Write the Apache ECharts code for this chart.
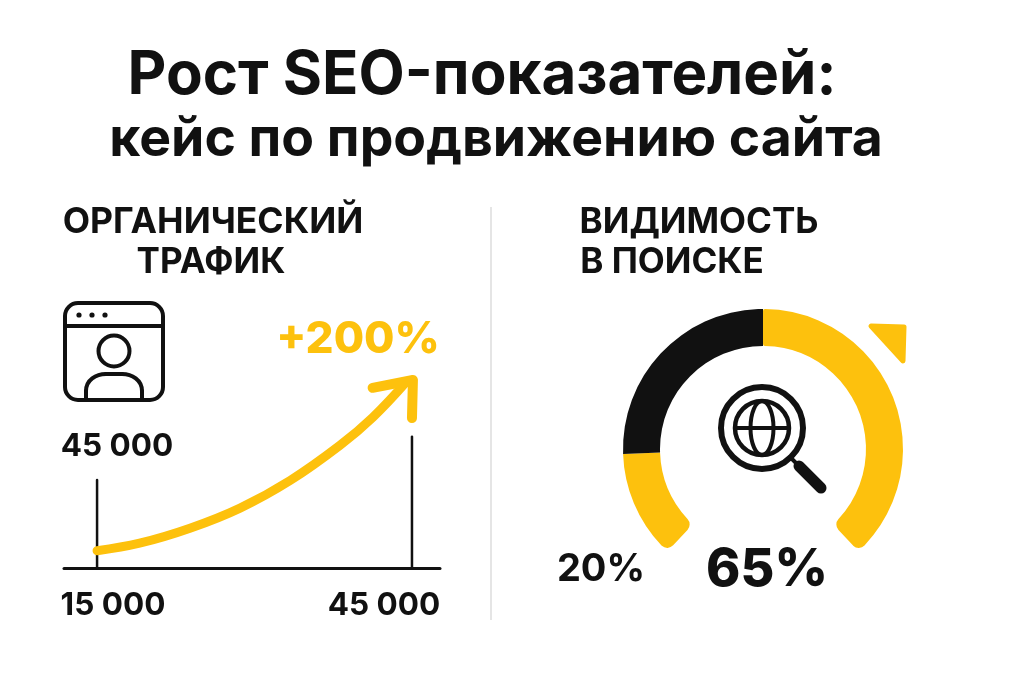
<!DOCTYPE html>
<html>
<head>
<meta charset="utf-8">
<script src="https://cdn.jsdelivr.net/npm/echarts@6/dist/echarts.min.js"></script>
<style>
  html, body { margin: 0; padding: 0; background: #fff; }
  #main { width: 1024px; height: 683px; }
</style>
</head>
<body>
<div id="main"></div>
<script>
const YELLOW = '#FDC10D';
const BLACK = '#111111';
const FONT = 'Inter';

// органический трафик, значения
const curveX = [0, 13.5, 29.5, 45.4, 61.3, 77.1, 87.6, 98.3];
const curveY = [15000, 16300, 18900, 22400, 27200, 33300, 38200, 44400];
const arrowHeadX = [87.5, 100.3, 100];
const arrowHeadY = [43300, 44650, 38050];
const leftTickX = [0, 0];
const leftTickY = [12000, 27300];
const rightTickX = [100, 100];
const rightTickY = [12000, 34800];

// видимость в поиске: доли дуги в градусах, по часовой от верхней точки
const arcNames = ['рост', 'разрыв', 'база', 'остаток'];
const arcValues = [137, 86, 45, 92];
const arcColors = [YELLOW, 'transparent', YELLOW, BLACK];
const arcCorners = [[2, 8, 2, 8], 0, [8, 0, 8, 0], 0];

const texts = [
  ['Рост SEO-показателей:', 482, 76, 60, 700, BLACK],
  ['кейс по продвижению сайта', 496, 140, 53.5, 700, BLACK],
  ['ОРГАНИЧЕСКИЙ', 213, 222, 35.5, 700, BLACK],
  ['ТРАФИК', 211, 262, 35, 700, BLACK],
  ['ВИДИМОСТЬ', 699, 222, 35, 700, BLACK],
  ['В ПОИСКЕ', 672, 262, 35, 700, BLACK],
  ['+200%', 358, 340, 44, 800, YELLOW],
  ['45 000', 117, 447, 31.5, 700, BLACK],
  ['15 000', 113, 606, 31.5, 700, BLACK],
  ['45 000', 384, 606, 31.5, 700, BLACK],
  ['20%', 601, 570, 38, 700, BLACK],
  ['65%', 767, 570, 52, 800, BLACK]
];

function zip(xs, ys) {
  return xs.map(function (x, i) { return [x, ys[i]]; });
}

function inkLine(xs, ys, color, width, smooth) {
  return {
    type: 'line',
    data: zip(xs, ys),
    smooth: smooth,
    showSymbol: false,
    silent: true,
    animation: false,
    clip: false,
    lineStyle: { color: color, width: width, cap: 'round', join: 'round' }
  };
}

let chart = echarts.init(document.getElementById('main'), null, { renderer: 'canvas' });

let textEls = texts.map(function (t) {
  return {
    type: 'text',
    x: t[1],
    y: t[2],
    silent: true,
    style: {
      text: t[0],
      fill: t[5],
      font: t[4] + ' ' + t[3] + 'px ' + FONT,
      textAlign: 'center',
      textVerticalAlign: 'middle'
    }
  };
});

function stroke(shapeType, shape, width) {
  return {
    type: shapeType,
    shape: shape,
    silent: true,
    style: { fill: 'none', stroke: BLACK, lineWidth: width, lineCap: 'round', lineJoin: 'round' }
  };
}

let icons = [
  // окно с пользователем
  stroke('rect', { x: 65, y: 303, width: 98, height: 97, r: 13 }, 4),
  stroke('line', { x1: 66, y1: 326, x2: 162, y2: 326 }, 4),
  { type: 'circle', shape: { cx: 79, cy: 315, r: 2.6 }, style: { fill: BLACK }, silent: true },
  { type: 'circle', shape: { cx: 92, cy: 315, r: 2.6 }, style: { fill: BLACK }, silent: true },
  { type: 'circle', shape: { cx: 105, cy: 315, r: 2.6 }, style: { fill: BLACK }, silent: true },
  stroke('circle', { cx: 114, cy: 351, r: 15.5 }, 4),
  stroke('line', { x1: 86, y1: 398, x2: 86, y2: 391 }, 4),
  stroke('line', { x1: 142, y1: 398, x2: 142, y2: 391 }, 4),
  stroke('bezierCurve', { x1: 86, y1: 391, cpx1: 86, cpy1: 380, cpx2: 96, cpy2: 374, x2: 106, y2: 374 }, 4),
  stroke('line', { x1: 106, y1: 374, x2: 122, y2: 374 }, 4),
  stroke('bezierCurve', { x1: 122, y1: 374, cpx1: 132, cpy1: 374, cpx2: 142, cpy2: 380, x2: 142, y2: 391 }, 4),
  // лупа с глобусом
  stroke('circle', { cx: 762, cy: 428, r: 41 }, 6),
  stroke('circle', { cx: 762, cy: 428, r: 27 }, 4.5),
  stroke('ellipse', { cx: 762, cy: 428, rx: 11.5, ry: 27 }, 4),
  stroke('line', { x1: 735, y1: 428, x2: 789, y2: 428 }, 4),
  stroke('line', { x1: 790, y1: 457, x2: 799, y2: 466 }, 4),
  stroke('line', { x1: 799, y1: 466, x2: 821, y2: 488 }, 11),
  // уголок у дуги и разделитель
  {
    type: 'polygon',
    shape: { points: [[871, 326], [904, 327], [903, 361]] },
    silent: true,
    style: { fill: YELLOW, stroke: YELLOW, lineWidth: 5, lineJoin: 'round' }
  },
  {
    type: 'line',
    shape: { x1: 491, y1: 207, x2: 491, y2: 620 },
    silent: true,
    style: { stroke: '#dddddd', lineWidth: 1.5 }
  }
];

chart.setOption({
  backgroundColor: '#ffffff',
  animation: false,
  grid: { left: 64, top: 378, width: 376, height: 190, containLabel: false },
  xAxis: {
    type: 'value',
    min: -10.5,
    max: 108.9,
    splitLine: { show: false },
    axisTick: { show: false },
    axisLabel: { show: false },
    axisLine: { show: true, onZero: false, lineStyle: { color: BLACK, width: 3 } }
  },
  yAxis: {
    type: 'value',
    min: 12000,
    max: 45000,
    show: false
  },
  series: [
    inkLine(leftTickX, leftTickY, BLACK, 2.5, false),
    inkLine(rightTickX, rightTickY, BLACK, 2.5, false),
    inkLine(curveX, curveY, YELLOW, 9, 0.4),
    inkLine(arrowHeadX, arrowHeadY, YELLOW, 10, false),
    {
      type: 'pie',
      center: [763, 449],
      radius: [103, 140],
      startAngle: 90,
      clockwise: true,
      silent: true,
      animation: false,
      label: { show: false },
      labelLine: { show: false },
      data: arcValues.map(function (v, i) {
        return {
          name: arcNames[i],
          value: v,
          itemStyle: { color: arcColors[i], borderRadius: arcCorners[i] }
        };
      })
    }
  ],
  graphic: { elements: icons.concat(textEls) }
});
</script>
</body>
</html>
